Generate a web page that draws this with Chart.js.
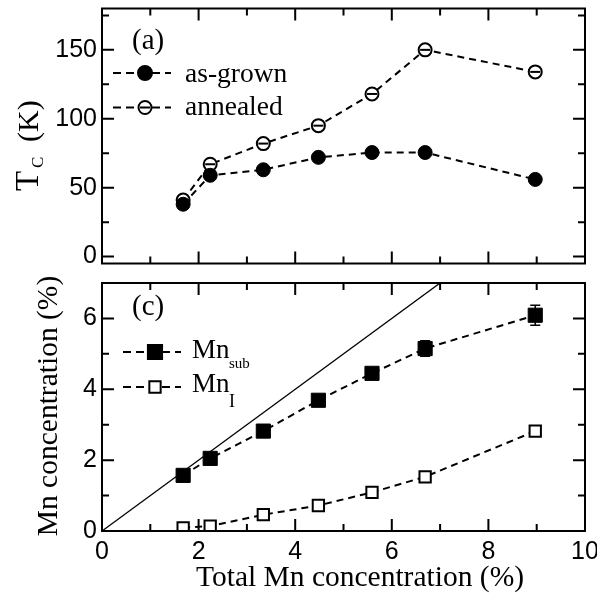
<!DOCTYPE html>
<html><head><meta charset="utf-8">
<script src="https://cdn.jsdelivr.net/npm/chart.js@4"></script>
<style>
html,body{margin:0;padding:0;background:#fff;}
#wrap{position:relative;width:597px;height:598px;overflow:hidden;background:#fff;}
canvas{position:absolute;left:0;}
</style></head><body>
<div id="wrap">
<canvas id="top" width="597" height="272" style="top:0px"></canvas>
<canvas id="bot" width="597" height="326" style="top:272px"></canvas>
</div>
<script>
// ---- data ----
const xTotal     = [1.68, 2.24, 3.34, 4.48, 5.59, 6.69, 8.97];
const tcAsGrown  = [38, 59, 63, 72, 75.5, 75.5, 56];
const tcAnnealed = [41, 67, 82, 95, 118, 150, 134];
const mnSub      = [1.57, 2.05, 2.82, 3.69, 4.45, 5.15, 6.09];
const mnSubErr   = [0.05, 0.05, 0.06, 0.08, 0.15, 0.22, 0.28];
const mnI        = [0.09, 0.14, 0.46, 0.72, 1.09, 1.53, 2.82];
const refX = [0, 10];
const refY = [0, 10];
const xTicks  = [0, 2, 4, 6, 8, 10];
const xMinor  = [1, 3, 5, 7, 9];
const tcTicks = [0, 50, 100, 150];
const tcMinor = [25, 75, 125, 175];
const mnTicks = [0, 2, 4, 6];
const mnMinor = [1, 3, 5];

const SANS = '"Liberation Sans", Arial, sans-serif';
const SERIF = '"Liberation Serif", "Times New Roman", serif';
const pts = (xs, ys) => xs.map((x, i) => ({x, y: ys[i]}));

const framePlugin = {
  id: 'frame',
  afterDatasetsDraw(chart, args, o) {
    const {ctx, chartArea: a, scales: {x, y}} = chart;
    ctx.save();
    ctx.strokeStyle = '#000';
    ctx.lineWidth = 2;
    ctx.strokeRect(a.left, a.top, a.right - a.left, a.bottom - a.top);
    const vt = (vals, len) => vals.forEach(v => {
      const px = x.getPixelForValue(v);
      ctx.beginPath();
      ctx.moveTo(px, a.bottom); ctx.lineTo(px, a.bottom - len);
      ctx.moveTo(px, a.top); ctx.lineTo(px, a.top + len);
      ctx.stroke();
    });
    const ht = (vals, len) => vals.forEach(v => {
      const py = y.getPixelForValue(v);
      ctx.beginPath();
      ctx.moveTo(a.left, py); ctx.lineTo(a.left + len, py);
      ctx.moveTo(a.right, py); ctx.lineTo(a.right - len, py);
      ctx.stroke();
    });
    vt(o.xMajor, 12); vt(o.xMinor, 7);
    ht(o.yMajor, 12); ht(o.yMinor, 7);
    ctx.restore();
  }
};

function drawMarker(ctx, style, x, y, r, filled) {
  ctx.save();
  ctx.lineWidth = 2;
  ctx.strokeStyle = '#000';
  ctx.fillStyle = filled ? '#000' : '#fff';
  ctx.beginPath();
  if (style === 'circle') ctx.arc(x, y, r, 0, Math.PI * 2);
  else { const s = r * Math.SQRT1_2; ctx.rect(x - s, y - s, 2 * s, 2 * s); }
  ctx.fill(); ctx.stroke();
  ctx.restore();
}
function legendLine(ctx, x0, x1, y) {
  ctx.save();
  ctx.strokeStyle = '#000'; ctx.lineWidth = 2; ctx.setLineDash([8, 5]);
  ctx.beginPath(); ctx.moveTo(x0, y); ctx.lineTo(x1, y); ctx.stroke();
  ctx.restore();
}

const xScale = (show) => ({
  type: 'linear', min: 0, max: 10,
  grid: {display: false, drawTicks: false}, border: {display: false},
  ticks: {display: show, padding: 6, color: '#000', font: {family: SANS, size: 25}, maxRotation: 0, autoSkip: false},
  afterBuildTicks: s => { s.ticks = xTicks.map(v => ({value: v})); },
  afterFit: s => { s.height = show ? 67 : 5; s.paddingLeft = 0; s.paddingRight = 0; }
});
const yScale = (min, max, ticks) => ({
  type: 'linear', min, max,
  grid: {display: false, drawTicks: false}, border: {display: false},
  ticks: {padding: 5, color: '#000', font: {family: SANS, size: 25}},
  afterBuildTicks: s => { s.ticks = ticks.map(v => ({value: v})); },
  afterFit: s => { s.width = 102; s.paddingTop = 0; s.paddingBottom = 0; }
});

// ---------------- top panel ----------------
const topDecor = {
  id: 'topDecor',
  afterDatasetsDraw(chart) {
    const {ctx, scales: {x, y}} = chart;
    ctx.save();
    ctx.strokeStyle = '#000'; ctx.lineWidth = 2;
    xTotal.forEach((v, i) => {
      const px = x.getPixelForValue(v), py = y.getPixelForValue(tcAnnealed[i]);
      ctx.beginPath(); ctx.moveTo(px - 5, py); ctx.lineTo(px + 5, py); ctx.stroke();
    });
    ctx.restore();
  },
  afterDraw(chart) {
    const ctx = chart.ctx;
    ctx.save();
    ctx.fillStyle = '#000';
    ctx.textAlign = 'left'; ctx.textBaseline = 'alphabetic';
    ctx.font = '29px ' + SERIF;
    ctx.fillText('(a)', 132, 49);
    legendLine(ctx, 113, 171, 73);
    drawMarker(ctx, 'circle', 145, 73, 7, true);
    legendLine(ctx, 113, 171, 107.5);
    drawMarker(ctx, 'circle', 145, 107.5, 6.5, false);
    ctx.beginPath(); ctx.moveTo(140, 107.5); ctx.lineTo(150, 107.5); ctx.lineWidth = 2; ctx.stroke();
    ctx.font = '27.5px ' + SERIF;
    ctx.fillText('as-grown', 185, 81.5);
    ctx.fillText('annealed', 185, 115);
    // y title T_C (K)
    ctx.translate(38, 191);
    ctx.rotate(-Math.PI / 2);
    ctx.font = '33px ' + SERIF;
    ctx.fillText('T', 0, 0);
    ctx.font = '17px ' + SERIF;
    ctx.fillText('C', 23, 5);
    ctx.font = '30px ' + SERIF;
    ctx.fillText('(K)', 49, 0);
    ctx.restore();
  }
};

new Chart(document.getElementById('top'), {
  type: 'line',
  data: {
    datasets: [
      {label: 'as-grown', data: pts(xTotal, tcAsGrown), borderColor: '#000', borderWidth: 2, borderDash: [7, 5],
       pointStyle: 'circle', pointRadius: 7, pointBackgroundColor: '#000', pointBorderColor: '#000', pointBorderWidth: 1, fill: false, tension: 0},
      {label: 'annealed', data: pts(xTotal, tcAnnealed), borderColor: '#000', borderWidth: 2, borderDash: [7, 5],
       pointStyle: 'circle', pointRadius: 6.5, pointBackgroundColor: '#fff', pointBorderColor: '#000', pointBorderWidth: 2, fill: false, tension: 0}
    ]
  },
  options: {
    responsive: false, animation: false, events: [],
    layout: {padding: {left: 0, top: 8, right: 12, bottom: 0}},
    scales: {x: xScale(false), y: yScale(-5, 180, tcTicks)},
    plugins: {legend: {display: false}, tooltip: {enabled: false},
      frame: {xMajor: xTicks, xMinor: xMinor, yMajor: tcTicks, yMinor: tcMinor}}
  },
  plugins: [framePlugin, topDecor]
});

// ---------------- bottom panel ----------------
const botDecor = {
  id: 'botDecor',
  afterDatasetsDraw(chart) {
    const {ctx, scales: {x, y}} = chart;
    ctx.save();
    ctx.strokeStyle = '#000'; ctx.lineWidth = 1.5;
    xTotal.forEach((v, i) => {
      const px = x.getPixelForValue(v);
      const y1 = y.getPixelForValue(mnSub[i] + mnSubErr[i]);
      const y2 = y.getPixelForValue(mnSub[i] - mnSubErr[i]);
      ctx.beginPath();
      ctx.moveTo(px, y1); ctx.lineTo(px, y2);
      ctx.moveTo(px - 5, y1); ctx.lineTo(px + 5, y1);
      ctx.moveTo(px - 5, y2); ctx.lineTo(px + 5, y2);
      ctx.stroke();
    });
    ctx.restore();
  },
  afterDraw(chart) {
    const ctx = chart.ctx;
    ctx.save();
    ctx.fillStyle = '#000';
    ctx.textAlign = 'left'; ctx.textBaseline = 'alphabetic';
    ctx.font = '29px ' + SERIF;
    ctx.fillText('(c)', 132, 43);
    legendLine(ctx, 123, 181, 80);
    drawMarker(ctx, 'rect', 155, 80, 10, true);
    legendLine(ctx, 123, 181, 115);
    drawMarker(ctx, 'rect', 155, 115, 8, false);
    ctx.font = '27px ' + SERIF;
    ctx.fillText('Mn', 192, 85.5);
    ctx.fillText('Mn', 192, 120);
    ctx.font = '15px ' + SERIF;
    ctx.fillText('sub', 229, 96);
    ctx.font = '18px ' + SERIF;
    ctx.fillText('I', 229, 135);
    // x title
    ctx.textAlign = 'center';
    ctx.font = '29.5px ' + SERIF;
    ctx.fillText('Total Mn concentration (%)', 360, 314);
    // y title
    ctx.translate(57, 134);
    ctx.rotate(-Math.PI / 2);
    ctx.fillText('Mn concentration (%)', 0, 0);
    ctx.restore();
  }
};

new Chart(document.getElementById('bot'), {
  type: 'line',
  data: {
    datasets: [
      {label: 'Mn_sub', data: pts(xTotal, mnSub), borderColor: '#000', borderWidth: 2, borderDash: [7, 5],
       pointStyle: 'rect', pointRadius: 10, pointBackgroundColor: '#000', pointBorderColor: '#000', pointBorderWidth: 1, fill: false, tension: 0},
      {label: 'Mn_I', data: pts(xTotal, mnI), borderColor: '#000', borderWidth: 2, borderDash: [7, 5],
       pointStyle: 'rect', pointRadius: 8, pointBackgroundColor: '#fff', pointBorderColor: '#000', pointBorderWidth: 2, fill: false, tension: 0},
      {label: 'total', data: pts(refX, refY), borderColor: '#000', borderWidth: 1.3, pointRadius: 0, fill: false, tension: 0}
    ]
  },
  options: {
    responsive: false, animation: false, events: [],
    layout: {padding: {left: 0, top: 4, right: 12, bottom: 0}},
    scales: {x: xScale(true), y: yScale(0, 7, mnTicks)},
    plugins: {legend: {display: false}, tooltip: {enabled: false},
      frame: {xMajor: xTicks, xMinor: xMinor, yMajor: mnTicks, yMinor: mnMinor}}
  },
  plugins: [framePlugin, botDecor]
});
</script>
</body></html>
